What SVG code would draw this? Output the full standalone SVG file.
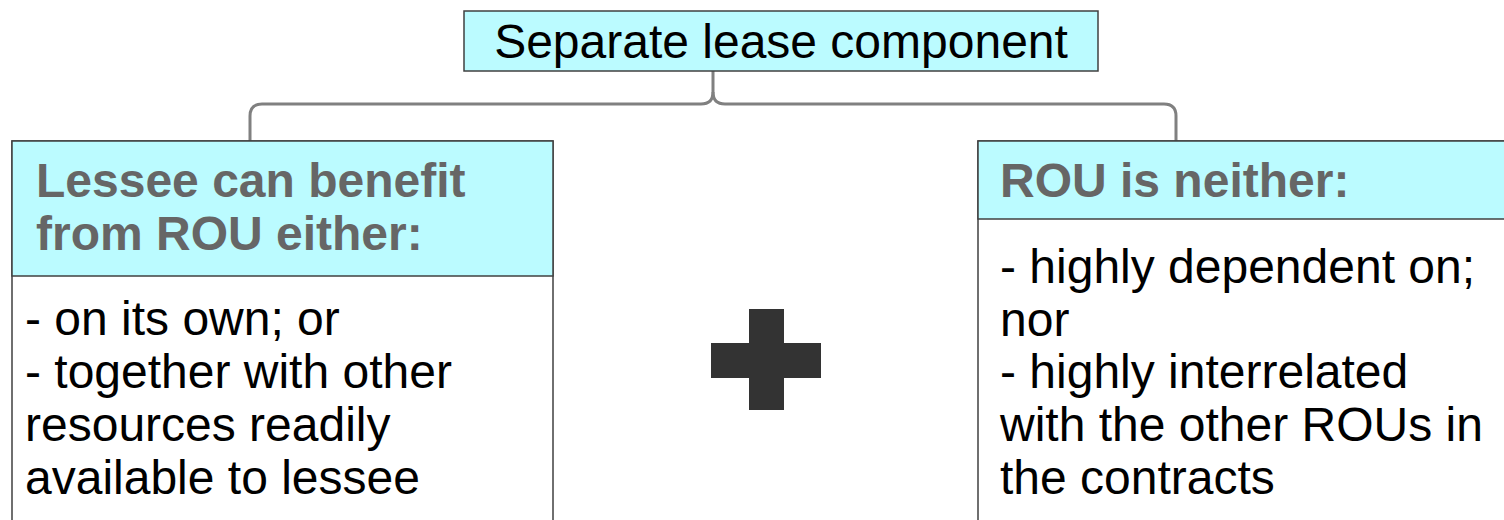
<svg xmlns="http://www.w3.org/2000/svg" width="1504" height="520" viewBox="0 0 1504 520">
  <style>
    .box { fill: #ffffff; stroke: #404040; stroke-width: 1.5; }
    .head { fill: #bbfbff; stroke: #404040; stroke-width: 1.5; }
    .t { font-family: "Liberation Sans", Arial, sans-serif; font-size: 48px; fill: #000000; }
    .h { font-family: "Liberation Sans", Arial, sans-serif; font-size: 48px; font-weight: bold; fill: #666666; }
    .conn { fill: none; stroke: #808080; stroke-width: 3; }
  </style>

  <!-- brace connecting the title to both condition panels -->
  <g id="connectors">
    <path class="conn" d="M713,71 L713,92 Q713,104 701,104 L262,104 Q250,104 250,116 L250,141"/>
    <path class="conn" d="M713,92 Q713,104 725,104 L1164,104 Q1176,104 1176,116 L1176,141"/>
  </g>

  <g id="title">
    <rect class="head" x="464" y="11" width="634" height="60"/>
    <text class="t" x="781" y="58" text-anchor="middle">Separate lease component</text>
  </g>

  <g id="left-panel">
    <rect class="box" x="12" y="141" width="541" height="400"/>
    <rect class="head" x="12" y="141" width="541" height="135"/>
    <text class="h" x="36" y="197">Lessee can benefit</text>
    <text class="h" x="36" y="250">from ROU either:</text>
    <text class="t" x="25" y="335">- on its own; or</text>
    <text class="t" x="25" y="388">- together with other</text>
    <text class="t" x="25" y="441">resources readily</text>
    <text class="t" x="25" y="494">available to lessee</text>
  </g>

  <g id="plus">
    <rect x="711" y="343" width="110" height="35" fill="#333333"/>
    <rect x="749" y="309" width="35" height="101" fill="#333333"/>
  </g>

  <g id="right-panel">
    <rect class="box" x="978" y="141" width="540" height="400"/>
    <rect class="head" x="978" y="141" width="540" height="78"/>
    <text class="h" x="1000" y="197">ROU is neither:</text>
    <text class="t" x="1000" y="283">- highly dependent on;</text>
    <text class="t" x="1000" y="336">nor</text>
    <text class="t" x="1000" y="388">- highly interrelated</text>
    <text class="t" x="1000" y="441">with the other ROUs in</text>
    <text class="t" x="1000" y="494">the contracts</text>
  </g>
</svg>
